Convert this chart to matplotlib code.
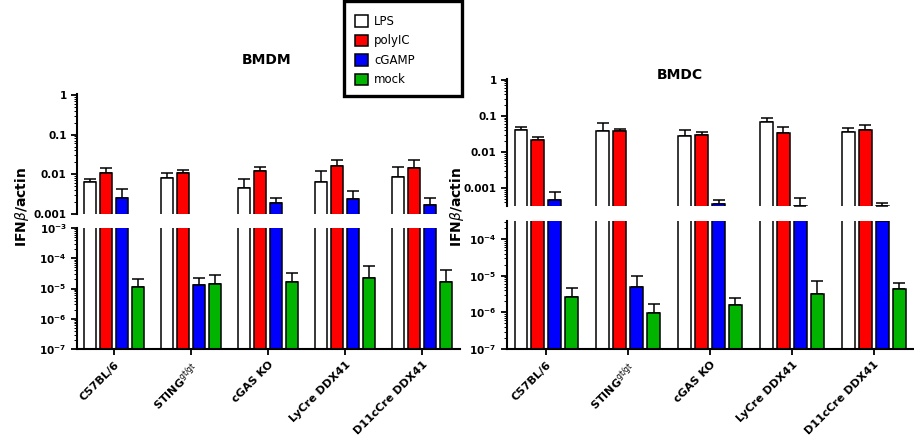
import numpy as np
import matplotlib
matplotlib.use("Agg")
import matplotlib.pyplot as plt
from matplotlib.patches import Patch, Rectangle

plt.rcParams['font.family'] = ['DejaVu Sans']
plt.rcParams['mathtext.fontset'] = 'custom'
plt.rcParams['mathtext.rm'] = 'DejaVu Sans'
plt.rcParams['mathtext.bf'] = 'DejaVu Sans:bold'

groups = ['C57BL/6', r'STING$^{\rm gt/gt}$', 'cGAS KO', 'LyCre DDX41', 'D11cCre DDX41']
series = ['LPS', 'polyIC', 'cGAMP', 'mock']
colors = ['white', '#ff0000', '#0000ff', '#00b400']

# BMDM: mean and upper error end
bmdm_lps = [0.0063, 0.008, 0.0045, 0.0063, 0.0084]
bmdm_lps_err = [0.0075, 0.011, 0.0075, 0.012, 0.015]
bmdm_poly = [0.0105, 0.011, 0.012, 0.016, 0.014]
bmdm_poly_err = [0.014, 0.013, 0.015, 0.023, 0.023]
bmdm_cgamp = [0.0025, 1.26e-5, 0.0019, 0.0024, 0.0017]
bmdm_cgamp_err = [0.0042, 2.3e-5, 0.0025, 0.0038, 0.0025]
bmdm_mock = [1.1e-5, 1.4e-5, 1.7e-5, 2.2e-5, 1.6e-5]
bmdm_mock_err = [2.0e-5, 2.7e-5, 3.2e-5, 5.4e-5, 4.0e-5]

# BMDC
bmdc_lps = [0.041, 0.039, 0.028, 0.069, 0.036]
bmdc_lps_err = [0.05, 0.064, 0.041, 0.085, 0.047]
bmdc_poly = [0.022, 0.038, 0.029, 0.033, 0.04]
bmdc_poly_err = [0.026, 0.044, 0.036, 0.05, 0.055]
bmdc_cgamp = [4.7e-4, 5.0e-6, 3.7e-4, 3.3e-4, 3.1e-4]
bmdc_cgamp_err = [7.8e-4, 9.7e-6, 4.7e-4, 5.5e-4, 3.9e-4]
bmdc_mock = [2.7e-6, 9.4e-7, 1.55e-6, 3.2e-6, 4.4e-6]
bmdc_mock_err = [4.5e-6, 1.65e-6, 2.4e-6, 7.0e-6, 6.5e-6]

W, H = 914, 446
fig = plt.figure(figsize=(W / 100, H / 100), dpi=100)


def box(x0, x1, y0, y1):
    return [x0 / W, 1 - y1 / H, (x1 - x0) / W, (y1 - y0) / H]


offsets = [-0.31, -0.104, 0.104, 0.31]
bw = 0.155
fs = 7.5


def panel(xs, top_y, bot_y, top_lim, bot_lim, bot_ticks, vals, errs, title, title_xy, ylab_x):
    ax_t = fig.add_axes(box(xs[0], xs[1], top_y[0], top_y[1]))
    ax_b = fig.add_axes(box(xs[0], xs[1], bot_y[0], bot_y[1]))
    x = np.arange(len(groups))
    for ax in (ax_t, ax_b):
        for i in range(4):
            v = np.array(vals[i])
            e = np.array(errs[i]) - v
            ax.bar(x + offsets[i], v - 1e-7, bottom=1e-7, width=bw, color=colors[i],
                   edgecolor='black', linewidth=1.1, zorder=2)
            ax.errorbar(x + offsets[i], v, yerr=[np.zeros_like(e), e], fmt='none',
                        ecolor='black', elinewidth=1.1, capsize=4.5, capthick=1.1, zorder=1)
        ax.set_yscale('log')
        ax.set_xlim(-0.48, 4.49)
        for s in ('top', 'right'):
            ax.spines[s].set_visible(False)
        ax.spines['left'].set_linewidth(1.5)
        ax.tick_params(axis='y', which='major', length=4, width=1.3, labelsize=fs)
        ax.tick_params(axis='y', which='minor', length=2, width=0.7)
        ax.yaxis.set_minor_locator(matplotlib.ticker.LogLocator(base=10, subs=np.arange(2, 10), numticks=20))
    ax_t.spines['bottom'].set_visible(False)
    ax_t.set_xticks([])
    ax_t.set_yticks([1, 0.1, 0.01, 0.001])
    ax_t.set_yticklabels(['1', '0.1', '0.01', '0.001'], fontweight='bold', fontsize=fs)
    ax_t.set_ylim(*top_lim)
    ax_b.set_yticks(bot_ticks)
    ax_b.set_yticklabels([r'$\mathbf{10^{%d}}$' % int(round(np.log10(t))) for t in bot_ticks], fontsize=fs)
    ax_b.set_ylim(*bot_lim)
    ax_b.spines['bottom'].set_linewidth(1.5)
    ax_b.set_xticks(x)
    ax_b.tick_params(axis='x', length=4, width=1.3)
    ax_b.set_xticklabels(groups, rotation=45, ha='right', va='top', rotation_mode='anchor',
                         fontweight='bold', fontsize=fs + 0.5)
    fig.text(title_xy[0] / W, 1 - title_xy[1] / H, title, ha='center', va='center',
             fontsize=10, fontweight='bold')
    fig.text(ylab_x / W, 1 - 207 / H, r'IFN$\beta$/actin', rotation=90, ha='center', va='center',
             fontsize=10, fontweight='bold')


panel((77, 460), (94, 214), (228, 349), (1e-3, 1.05), (1e-7, 1e-3),
      [1e-3, 1e-4, 1e-5, 1e-6, 1e-7],
      [bmdm_lps, bmdm_poly, bmdm_cgamp, bmdm_mock],
      [bmdm_lps_err, bmdm_poly_err, bmdm_cgamp_err, bmdm_mock_err],
      'BMDM', (267, 60), 22)

panel((507, 914), (79, 206), (221, 349), (3.2e-4, 1.05), (1e-7, 3.1e-4),
      [1e-4, 1e-5, 1e-6, 1e-7],
      [bmdc_lps, bmdc_poly, bmdc_cgamp, bmdc_mock],
      [bmdc_lps_err, bmdc_poly_err, bmdc_cgamp_err, bmdc_mock_err],
      'BMDC', (680, 75), 457)

# legend frame drawn by hand, entries without frame
fig.patches.append(Rectangle((344 / W, 1 - 96 / H), 118 / W, 95 / H, transform=fig.transFigure,
                             facecolor='white', edgecolor='black', linewidth=2.4, zorder=5))
handles = [Patch(facecolor=c, edgecolor='black', linewidth=1.1) for c in colors]
leg = fig.legend(handles, series, loc='upper left', bbox_to_anchor=(355 / W, 1 - 15 / H),
                 fontsize=8.5, handlelength=1.1, handleheight=1.1, handletextpad=0.5,
                 labelspacing=0.55, borderpad=0, borderaxespad=0, frameon=False)
leg.set_zorder(6)

plt.savefig('out.png', dpi=100)
